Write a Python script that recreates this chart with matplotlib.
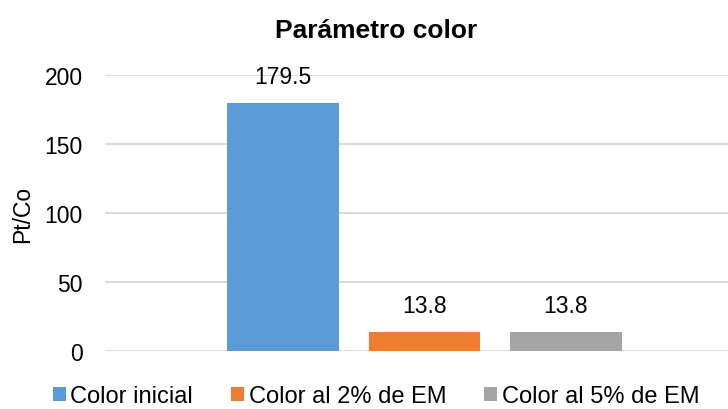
import numpy as np
import matplotlib.pyplot as plt

plt.rcParams['font.family'] = ['Liberation Sans', 'DejaVu Sans']

# DATA
series = ['Color inicial', 'Color al 2% de EM', 'Color al 5% de EM']
values = [179.5, 13.8, 13.8]
labels = ['179.5', '13.8', '13.8']
colors = ['#5B9BD5', '#ED7D31', '#A5A5A5']
yticks = [0, 50, 100, 150, 200]

fig = plt.figure(figsize=(7.28, 4.10), dpi=100)
ax = fig.add_axes([105 / 728, 1 - 352 / 410, 623 / 728, 276 / 410])

x = np.arange(len(series))
handles = []
for i in range(len(series)):
    b = ax.bar(x[i], values[i], width=0.79, color=colors[i], label=series[i], zorder=3)
    handles.append(b)
    ax.annotate(labels[i], (x[i], values[i]), xytext=(0, 11), textcoords='offset points',
                ha='center', va='bottom', fontsize=16.5, color='#000000')

ax.set_xlim(-1.258, 3.145)
ax.set_ylim(0, 200)
ax.set_yticks(yticks)
ax.set_xticks([])
ax.tick_params(axis='y', length=0, pad=16, labelsize=16.5)
ax.grid(axis='y', color='#d9d9d9', linewidth=1.4, zorder=0)
for s in ax.spines.values():
    s.set_visible(False)

fig.text(23 / 728, 1 - 214 / 410, 'Pt/Co', rotation=90, ha='center', va='center', fontsize=16.5)
fig.text(376 / 728, 1 - 31 / 410, 'Parámetro color', ha='center', va='center',
         fontsize=19, fontweight='bold')

fig.legend(handles=handles, loc='center', bbox_to_anchor=(376 / 728, 1 - 397 / 410),
           ncol=3, frameon=False, fontsize=17, handlelength=0.55, handleheight=0.55,
           handletextpad=0.2, columnspacing=1.6, borderaxespad=0)

plt.savefig('out.png', dpi=100)
